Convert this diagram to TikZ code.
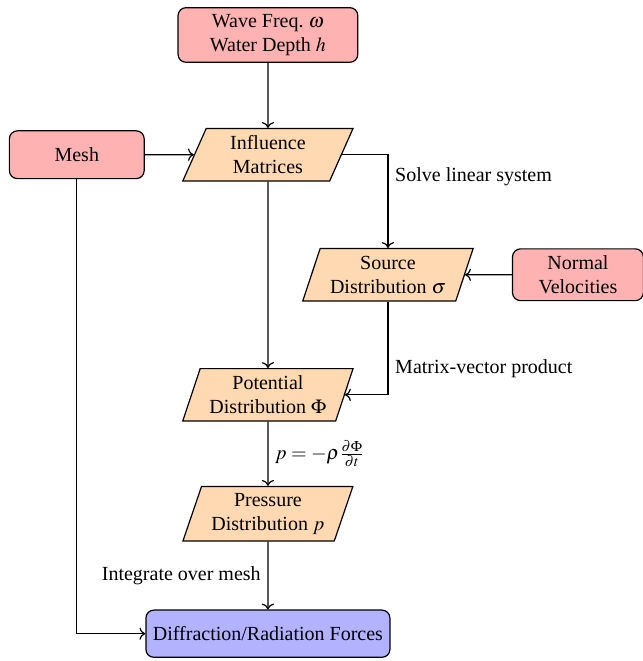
\documentclass[tikz,border=0pt]{standalone}
\usepackage{mathptmx}
\usepackage{fontspec}
\setmainfont{Liberation Serif}
\usetikzlibrary{positioning,arrows.meta,shapes.geometric}

\tikzset{
	inputbox/.style={draw, rounded corners, fill=red!30, align=center},
	procbox/.style={draw, trapezium, trapezium left angle=72, trapezium right angle=108,
		trapezium stretches=true, fill=orange!30, align=center,
		minimum width=3cm, minimum height=0.92cm},
	outbox/.style={draw, rounded corners, fill=blue!30, align=center},
}

\begin{document}
\begin{tikzpicture}[semithick]

		\useasboundingbox (0,0) rectangle (11.30,-11.62);

		\node[inputbox, minimum width=3.16cm, minimum height=0.95cm] (freq) at (4.71,-0.615) {Wave Freq.\ $\omega$\\Water Depth $h$};
		\node[procbox] (infl) at (4.71,-2.72) {Influence\\Matrices};
		\node[inputbox, minimum width=2.37cm, minimum height=0.84cm] (mesh) at (1.35,-2.72) {Mesh};
		\node[procbox] (src) at (6.82,-4.83) {Source\\Distribution $\sigma$};
		\node[inputbox, minimum width=2.3cm, minimum height=0.91cm] (vel) at (10.16,-4.83) {Normal\\Velocities};
		\node[procbox] (pot) at (4.71,-6.94) {Potential\\Distribution $\Phi$};
		\node[procbox] (pres) at (4.71,-9.03) {Pressure\\Distribution $p$};
		\node[outbox, minimum width=4.29cm, minimum height=0.83cm] (force) at (4.71,-11.14) {Diffraction/Radiation Forces};

		\draw[->] (freq) -- (infl);
		\draw[->] (mesh) -- (infl);
		\draw[->] (infl.east) -| node[right, pos=0.62] {Solve linear system} (src.north);
		\draw[->] (vel) -- (src);
		\draw[->] (infl) -- (pot);
		\draw[->] (src.south) |- node[right, pos=0.36] {Matrix-vector product} (pot.east);
		\draw[->] (pot) -- node[right] {$p = -\rho\frac{\partial\Phi}{\partial t}$} (pres);
		\draw[->] (pres) -- node[left] {Integrate over mesh} (force);
		\draw[->] (mesh.south) |- (force.west);

	\end{tikzpicture}
\end{document}
